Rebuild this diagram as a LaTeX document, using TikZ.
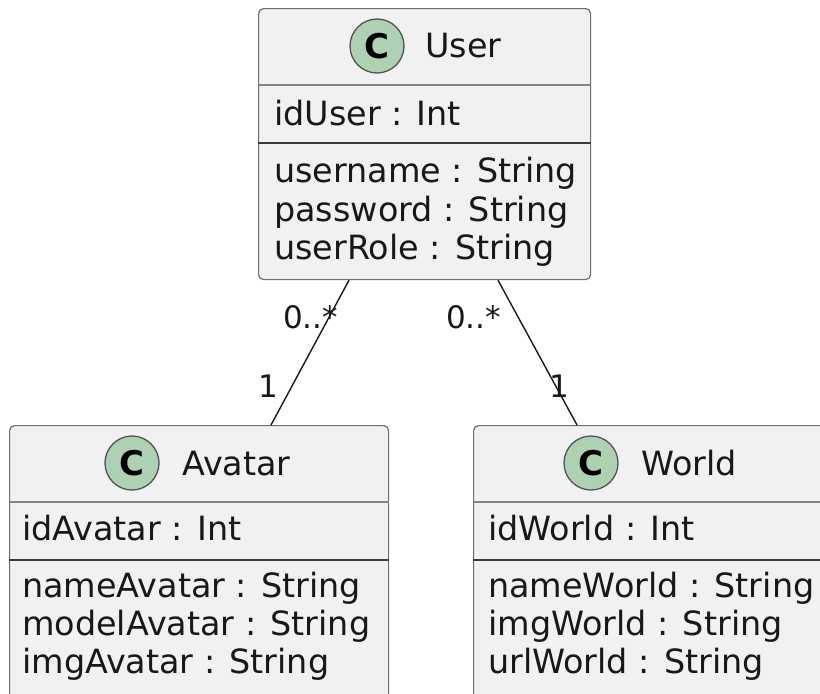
\documentclass[tikz,border=0pt]{standalone}
\usepackage{fontspec}
\setmainfont{DejaVu Sans}
\usetikzlibrary{calc}
\definecolor{boxfill}{HTML}{F1F1F1}
\definecolor{boxline}{HTML}{6E6E6E}
\definecolor{spotfill}{HTML}{ADD1B2}
\definecolor{inkdark}{HTML}{181818}
\begin{document}
\begin{tikzpicture}[x=1pt,y=-1pt,
  cls/.style={draw=boxline, fill=boxfill, line width=1.2pt, rounded corners=5pt,
    anchor=north west, inner sep=0pt},
  seplight/.style={draw=boxline!85, line width=1.1pt},
  sepdark/.style={draw=inkdark!85, line width=1.4pt},
  spot/.style={circle, draw=inkdark!75, line width=1.3pt, fill=spotfill,
    minimum size=54pt, inner sep=0pt,
    font=\fontsize{34}{34}\selectfont\bfseries},
  title/.style={anchor=base west, inner sep=0pt, font=\fontsize{33.4}{40}\selectfont, text=inkdark},
  attr/.style={anchor=base west, inner sep=0pt, font=\fontsize{33.4}{40}\selectfont, text=inkdark},
  mult/.style={anchor=base west, inner sep=0pt, font=\fontsize{31}{36}\selectfont, text=inkdark},
  assoc/.style={draw=inkdark, line width=1.4pt}]
\useasboundingbox (0,0) rectangle (820,694);
\clip (0,0) rectangle (820,694);

% class boxes
\node[cls, minimum width=332pt, minimum height=271pt] (User) at (258,8) {};
\node[cls, minimum width=379pt, minimum height=320pt] (Avatar) at (9,425) {};
\node[cls, minimum width=400pt, minimum height=320pt] (World) at (473,425) {};

% compartment separators
\foreach \c in {User,Avatar,World}{
  \draw[seplight] ([yshift=-77pt]\c.north west) -- ([yshift=-77pt]\c.north east);
  \draw[sepdark] ([yshift=-135pt]\c.north west) -- ([yshift=-135pt]\c.north east);
}

% User
\node[spot] (UserSpot) at (377,46) {C};
\node[title] (UserName) at (425,57) {User};
\node[attr] (UserId) at (274,125) {idUser : Int};
\node[attr] (UserA1) at (274,182) {username : String};
\node[attr] (UserA2) at (274,221) {password : String};
\node[attr] (UserA3) at (274,259) {userRole : String};

% Avatar
\node[spot] (AvatarSpot) at (132,463) {C};
\node[title] (AvatarName) at (182,475) {Avatar};
\node[attr] (AvatarId) at (22,540) {idAvatar : Int};
\node[attr] (AvatarA1) at (22,597) {nameAvatar : String};
\node[attr] (AvatarA2) at (22,635) {modelAvatar : String};
\node[attr] (AvatarA3) at (22,673) {imgAvatar : String};

% World
\node[spot] (WorldSpot) at (591,463) {C};
\node[title] (WorldName) at (641,475) {World};
\node[attr] (WorldId) at (488,540) {idWorld : Int};
\node[attr] (WorldA1) at (488,597) {nameWorld : String};
\node[attr] (WorldA2) at (488,635) {imgWorld : String};
\node[attr] (WorldA3) at (488,673) {urlWorld : String};

% associations
\draw[assoc] ([xshift=91pt]User.south west) -- ([xshift=262pt]Avatar.north west);
\draw[assoc] ([xshift=240pt]User.south west) -- ([xshift=104pt]World.north west);

% multiplicities
\node[mult] (mUA) at (283,328) {0..*};
\node[mult] (mAU) at (258,397) {1};
\node[mult] (mUW) at (446,328) {0..*};
\node[mult] (mWU) at (549,397) {1};
\end{tikzpicture}
\end{document}
